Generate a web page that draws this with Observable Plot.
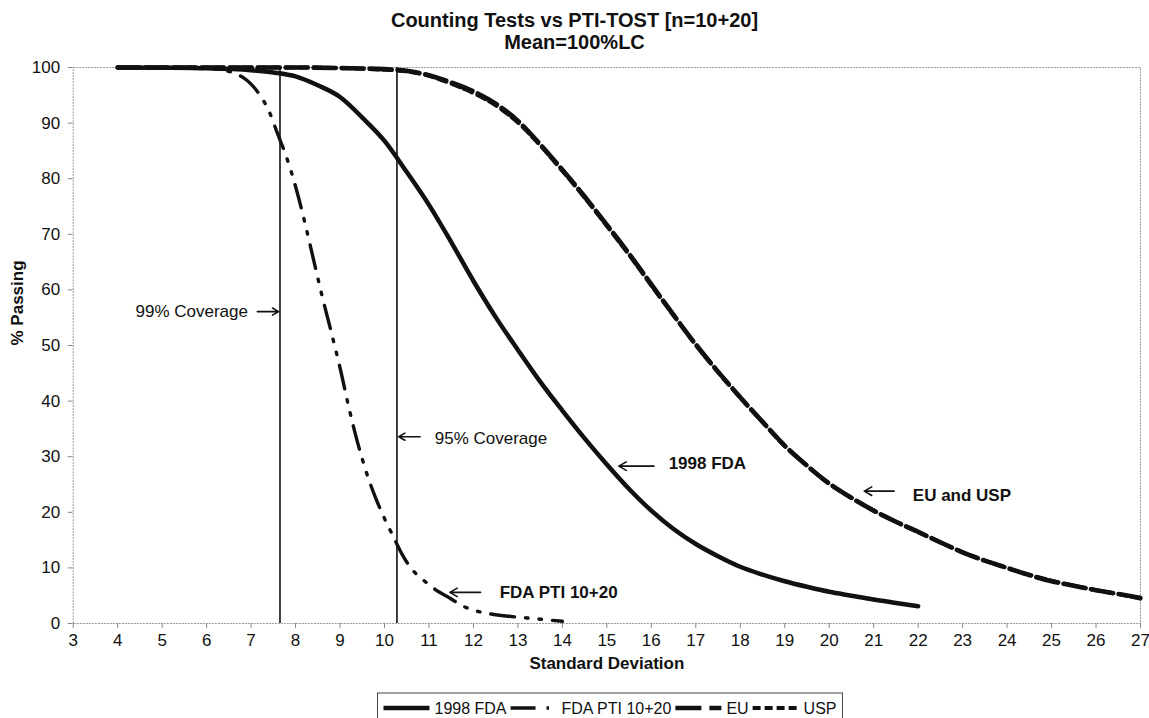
<!DOCTYPE html>
<html><head><meta charset="utf-8">
<script src="https://cdn.jsdelivr.net/npm/d3@7"></script>
<script src="https://cdn.jsdelivr.net/npm/@observablehq/plot@0.6"></script>
<style>
body{margin:0;background:#fff;font-family:"Liberation Sans",Arial,sans-serif;color:#111;}
#wrap{width:1149px;height:718px;overflow:hidden;position:relative;background:#fff}
#title{height:56px;text-align:center;font-weight:bold;font-size:20px;line-height:22px;padding-top:9px;box-sizing:border-box}
#chart svg{display:block}
#legend svg{display:block}
</style></head><body>
<div id="wrap">
<div id="title">Counting Tests vs PTI-TOST [n=10+20]<br>Mean=100%LC</div>
<div id="chart"></div>
<div id="legend"></div>
</div>
<script>
// ---- data ----
const xTicks = [3,4,5,6,7,8,9,10,11,12,13,14,15,16,17,18,19,20,21,22,23,24,25,26,27];
const yTicks = [0,10,20,30,40,50,60,70,80,90,100];
const xLabel = "Standard Deviation";
const yLabel = "% Passing";
const seriesNames = ["1998 FDA", "FDA PTI 10+20", "EU", "USP"];

const fda1998SD   = [4,5,6,7,7.5,8,8.5,9,9.5,10,10.5,11,11.5,12,12.5,13,13.5,14,14.5,15,15.5,16,16.5,17,17.5,18,18.5,19,19.5,20,20.5,21,21.5,22];
const fda1998Pass = [100,99.95,99.85,99.5,99.1,98.4,96.8,94.7,91.0,86.8,81.2,75.3,68.6,61.6,55.1,49.2,43.5,38.3,33.3,28.6,24.2,20.3,17.0,14.3,12.1,10.2,8.8,7.6,6.6,5.7,5.0,4.3,3.7,3.1];

const ptiSD   = [4,5,6,6.5,6.8,7.0,7.2,7.4,7.6,7.8,8.0,8.2,8.4,8.6,8.8,9.0,9.2,9.4,9.6,9.8,10.0,10.2,10.4,10.6,10.8,11.0,11.2,11.4,11.6,11.8,12.0,12.4,12.8,13.2,13.6,14.0];
const ptiPass = [100,99.95,99.8,99.3,98.3,97.0,95.0,92.2,88.0,83.8,78.6,72.4,65.6,58.8,52.5,46.0,38.8,32.4,27.0,22.6,18.9,15.6,12.4,9.9,8.3,7.0,5.8,4.9,3.9,3.0,2.4,1.7,1.3,1.0,0.7,0.4];

const euSD   = [4,5,6,7,8,9,10,10.5,11,11.5,12,12.5,13,13.5,14,14.5,15,15.5,16,16.5,17,17.5,18,18.5,19,19.5,20,20.5,21,21.5,22,22.5,23,23.5,24,24.5,25,25.5,26,26.5,27];
const euPass = [100,100,100,100,100,99.9,99.7,99.4,98.6,97.3,95.7,93.5,90.4,86.2,81.6,76.8,71.7,66.5,61.0,55.5,50.2,45.3,40.7,36.3,32.0,28.4,25.2,22.6,20.3,18.3,16.5,14.6,12.8,11.3,10.0,8.7,7.6,6.8,6.0,5.3,4.6];

const uspSD   = [4,5,6,7,8,9,10,10.5,11,11.5,12,12.5,13,13.5,14,14.5,15,15.5,16,16.5,17,17.5,18,18.5,19,19.5,20,20.5,21,21.5,22,22.5,23,23.5,24,24.5,25,25.5,26,26.5,27];
const uspPass = [100,100,100,100,100,99.9,99.6,99.3,98.5,97.1,95.4,93.2,90.1,86.0,81.4,76.6,71.5,66.3,60.8,55.4,50.1,45.2,40.6,36.2,31.9,28.4,25.1,22.6,20.3,18.3,16.4,14.6,12.8,11.3,10.0,8.8,7.7,6.8,6.0,5.3,4.5];

const coverageSD = [7.65, 10.28];

const noteText = ["99% Coverage", "95% Coverage", "1998 FDA", "EU and USP", "FDA PTI 10+20"];
const noteX    = [6.93, 11.13, 16.39, 21.88, 12.59];
const noteY    = [56.1, 33.3, 28.7, 23.0, 5.5];
const noteBold = [false, false, true, true, true];
const noteEnd  = [true, false, false, false, false];
const arrowX1 = [7.14, 10.80, 16.06, 21.46, 12.16];
const arrowX2 = [7.62, 10.32, 15.27, 20.79, 11.47];
const arrowY  = [56.1, 33.6, 28.3, 23.8, 5.6];

// ---- styles (not data) ----
const styles = {
  "1998 FDA":      {strokeWidth: 4.5, dash: null, curve: "monotone-x", legendDash: null},
  "FDA PTI 10+20": {strokeWidth: 3.4, dash: "24,11,2.5,11,2.5,11", curve: "monotone-x", legendDash: "25,11,2.5,30"},
  "EU":            {strokeWidth: 4.6, dash: "22,6", curve: "monotone-x", legendDash: "26,8,30"},
  "USP":           {strokeWidth: 4,   dash: "9,4,9,6", curve: "monotone-x", legendDash: "8,4"}
};

const seriesSD = [fda1998SD, ptiSD, euSD, uspSD];
const seriesPass = [fda1998Pass, ptiPass, euPass, uspPass];
const tables = seriesNames.map((name, i) => seriesSD[i].map((sd, j) => ({series: name, sd, pass: seriesPass[i][j]})));
const notes = noteText.map((t, i) => ({text: t, x: noteX[i], y: noteY[i], bold: noteBold[i], end: noteEnd[i]}));
const arrows = arrowX1.map((x1, i) => ({x1, x2: arrowX2[i], y: arrowY[i]}));

const lineMarks = seriesNames.map((name, i) => Plot.line(tables[i], {
  x: "sd", y: "pass", stroke: "#111",
  strokeWidth: styles[name].strokeWidth,
  strokeDasharray: styles[name].dash || undefined,
  curve: styles[name].curve,
  strokeLinejoin: "round"
}));

const chart = Plot.plot({
  width: 1149, height: 632,
  marginLeft: 72.7, marginRight: 9, marginTop: 11, marginBottom: 65,
  x: {domain: [3, 27]},
  y: {domain: [0, 100]},
  style: {fontFamily: "'Liberation Sans', Arial, sans-serif", fontSize: "17px", color: "#111", background: "white", overflow: "visible"},
  marks: [
    Plot.frame({stroke: "#9a9a9a", strokeDasharray: "2,1"}),
    Plot.axisX({ticks: xTicks, tickSize: 5, tickPadding: 5, stroke: "#888", label: null, tickFormat: d => String(d)}),
    Plot.axisY({ticks: yTicks, tickSize: 5, tickPadding: 8, stroke: "#888", label: null}),
    Plot.text([xLabel], {frameAnchor: "bottom", dy: 45, fontWeight: "bold", fontSize: 17}),
    Plot.text([yLabel], {frameAnchor: "left", dx: -56, rotate: -90, fontWeight: "bold", fontSize: 17}),
    Plot.ruleX(coverageSD, {y1: 0, y2: 100, stroke: "#111", strokeWidth: 1.6}),
    ...lineMarks,
    Plot.text(notes.filter(d => !d.bold && d.end), {x: "x", y: "y", text: "text", textAnchor: "end", fontSize: 17, fill: "#111"}),
    Plot.text(notes.filter(d => !d.bold && !d.end), {x: "x", y: "y", text: "text", textAnchor: "start", fontSize: 17, fill: "#111"}),
    Plot.text(notes.filter(d => d.bold), {x: "x", y: "y", text: "text", textAnchor: "start", fontSize: 17, fontWeight: "bold", fill: "#111"}),
    Plot.arrow(arrows, {x1: "x1", x2: "x2", y1: "y", y2: "y", stroke: "#111", strokeWidth: 1.6, headLength: 8})
  ]
});
document.getElementById("chart").appendChild(chart);

// ---- legend ----
const lg = d3.select("#legend").append("svg").attr("width", 1149).attr("height", 30)
  .style("font-family", "'Liberation Sans', Arial, sans-serif").style("font-size", "16px");
const box = lg.append("rect").attr("y", 5).attr("height", 32).attr("fill", "white").attr("stroke", "#444").attr("stroke-width", 1);
const g = lg.append("g");
let cx = 6;
seriesNames.forEach(name => {
  const s = styles[name];
  g.append("line").attr("x1", cx).attr("x2", cx + 46).attr("y1", 20).attr("y2", 20)
    .attr("stroke", "#111").attr("stroke-width", s.strokeWidth)
    .attr("stroke-dasharray", s.legendDash);
  const t = g.append("text").attr("x", cx + 51).attr("y", 20).attr("dy", "0.35em").attr("fill", "#111").text(name);
  const w = t.node().getComputedTextLength();
  cx = cx + 51 + w + 4;
});
const total = cx + 2;
const left = 610 - total / 2;
box.attr("x", left).attr("width", total);
g.attr("transform", `translate(${left},0)`);
</script>
</body></html>
